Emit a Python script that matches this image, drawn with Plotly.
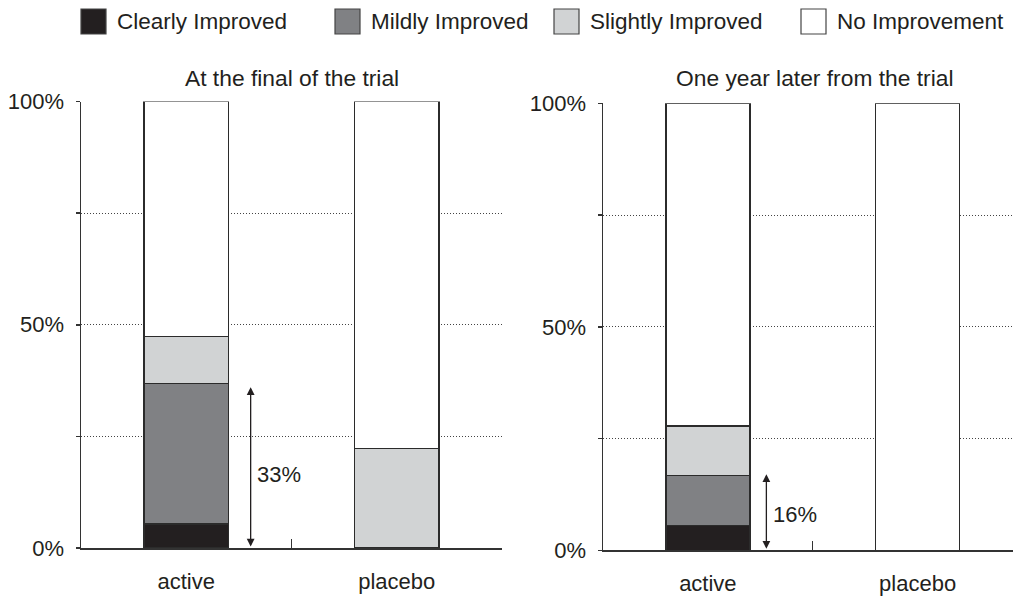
import plotly.graph_objects as go

# ---- data ----
categories = ["active", "placebo"]
series_names = ["Clearly Improved", "Mildly Improved", "Slightly Improved", "No Improvement"]
series_colors = ["#231f20", "#808184", "#d1d3d4", "#ffffff"]

# At the final of the trial (percent of patients)
final_clearly = [5.4, 0.0]
final_mildly = [31.4, 0.0]
final_slightly = [10.6, 22.3]
final_none = [52.6, 77.7]

# One year later from the trial
later_clearly = [5.5, 0.0]
later_mildly = [11.2, 0.0]
later_slightly = [11.1, 0.0]
later_none = [72.2, 100.0]

panel_titles = ["At the final of the trial", "One year later from the trial"]
diff_labels = ["33%", "16%"]
diff_arrow_tops = [36.0, 17.0]
diff_label_y = [16.4, 7.9]

ytick_vals = [0, 25, 50, 75, 100]
ytick_text = ["0%", "", "50%", "", "100%"]

# ---- figure ----
W, H = 1013, 596
FONT = "Liberation Sans, Arial, Helvetica, sans-serif"
INK = "#231f20"
fig = go.Figure()

panels = [
    ([final_clearly, final_mildly, final_slightly, final_none], "x", "y"),
    ([later_clearly, later_mildly, later_slightly, later_none], "x2", "y2"),
]
for vals, xa, ya in panels:
    for name, color, v in zip(series_names, series_colors, vals):
        fig.add_trace(go.Bar(
            x=categories, y=v, name=name, xaxis=xa, yaxis=ya,
            marker=dict(color=color, line=dict(color="#2b2b2b", width=1.5)),
            width=0.4, showlegend=False, hoverinfo="skip",
        ))

axis_common = dict(
    showline=True, linecolor="#333333", linewidth=1.5, mirror=False,
)
xcommon = dict(
    axis_common, type="category", tickson="boundaries", ticks="inside",
    ticklen=9, tickwidth=1.5, tickcolor="#333333", showgrid=False,
    tickfont=dict(family=FONT, size=22, color=INK), ticklabelstandoff=13,
    automargin=False, fixedrange=True,
)
ycommon = dict(
    axis_common, range=[0, 100], tickvals=ytick_vals, ticktext=ytick_text,
    ticks="outside", ticklen=4, tickwidth=1.5, tickcolor="#333333",
    showgrid=True, gridcolor="#444444", gridwidth=1, griddash="1px,2px",
    zeroline=False, tickfont=dict(family=FONT, size=22, color=INK),
    ticklabelstandoff=7, automargin=False, fixedrange=True,
)

fig.update_layout(
    width=W, height=H,
    margin=dict(l=0, r=0, t=0, b=0),
    paper_bgcolor="white", plot_bgcolor="white",
    barmode="stack", showlegend=False,
    font=dict(family=FONT, color=INK),
    xaxis=dict(xcommon, domain=[81 / W, 502 / W], range=[-0.5, 1.5], anchor="y"),
    yaxis=dict(ycommon, domain=[1 - 548 / H, 1 - 101.5 / H], anchor="x"),
    xaxis2=dict(xcommon, domain=[603 / W, 1.0], range=[-0.5, 1.455], anchor="y2"),
    yaxis2=dict(ycommon, domain=[1 - 550.3 / H, 1 - 103.3 / H], anchor="x2"),
)

# panel titles
title_centers = [292 / W, 814 / W]
for t, cx in zip(panel_titles, title_centers):
    fig.add_annotation(text=t, x=cx, y=1 - 78 / H, xref="paper", yref="paper",
                       xanchor="center", yanchor="middle", showarrow=False,
                       font=dict(family=FONT, size=22.8, color=INK))

# difference arrows and labels
arrow_x = [0.306, 0.279]
for i, (xa, ya) in enumerate([("x", "y"), ("x2", "y2")]):
    fig.add_annotation(x=arrow_x[i], y=diff_arrow_tops[i], ax=arrow_x[i], ay=0,
                       xref=xa, yref=ya, axref=xa, ayref=ya, text="",
                       showarrow=True, arrowhead=2, arrowsize=1.2, arrowwidth=1.3,
                       arrowside="end+start", arrowcolor=INK,
                       startarrowhead=2, startarrowsize=1.2)
    fig.add_annotation(x=arrow_x[i] + 0.022, y=diff_label_y[i], xref=xa, yref=ya,
                       text=diff_labels[i], showarrow=False, xanchor="left",
                       yanchor="middle", font=dict(family=FONT, size=22, color=INK))

# legend (boxes + labels)
legend_box_x = [81, 335, 554, 801]
for name, color, bx in zip(series_names, series_colors, legend_box_x):
    fig.add_shape(type="rect", xref="paper", yref="paper",
                  x0=bx / W, x1=(bx + 25) / W, y0=1 - 34 / H, y1=1 - 9 / H,
                  fillcolor=color, line=dict(color="#444444", width=1.2))
    fig.add_annotation(text=name, x=(bx + 34) / W, y=1 - 21.5 / H,
                       xref="paper", yref="paper", xanchor="left", yanchor="middle",
                       showarrow=False, font=dict(family=FONT, size=22.5, color=INK))

fig.write_html(
    "out.html",
    config={"displayModeBar": False, "staticPlot": True},
    post_script="document.body.style.margin='0px';document.body.style.padding='0px';",
)
